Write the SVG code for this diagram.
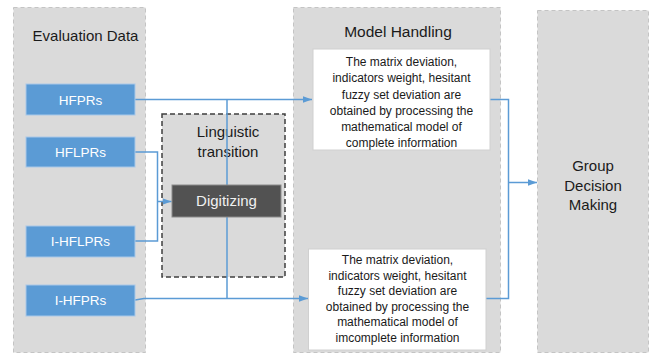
<svg xmlns="http://www.w3.org/2000/svg" width="653" height="353" viewBox="0 0 653 353">
<style>
.panel{fill:#dadada;stroke:#c4c4c4;stroke-width:1;stroke-dasharray:4 3}
.ling{fill:#dadada;stroke:#3f3f3f;stroke-width:1.5;stroke-dasharray:5 3}
.blue{fill:#5b9bd5;stroke:#a9c8e8;stroke-width:1}
.dig{fill:#525252;stroke:#8a8a8a;stroke-width:1}
.white{fill:#ffffff;stroke:#d0d0d0;stroke-width:1}
text{font-family:"Liberation Sans",Arial,sans-serif;text-anchor:middle}
.title{font-size:15px;fill:#1a1a1a}
.btn{font-size:13.5px;fill:#ffffff}
.small{font-size:12px;fill:#1a1a1a}
.conn{fill:none;stroke:#5b9bd5;stroke-width:1.5}
</style>
<defs>
<marker id="arr" viewBox="0 0 10 7" refX="10" refY="3.5" markerWidth="9" markerHeight="6.3" markerUnits="userSpaceOnUse" orient="auto">
<path d="M0,0 L10,3.5 L0,7 z" fill="#5b9bd5"/>
</marker>
</defs>
<g id="evaluation-data">
<rect class="panel" x="13.5" y="7.5" width="132" height="345"/>
<text class="title" x="85.5" y="41">Evaluation Data</text>
</g>
<g id="model-handling">
<rect class="panel" x="293.5" y="7.5" width="207" height="345"/>
<text class="title" x="398" y="37" style="font-size:15.5px">Model Handling</text>
</g>
<g id="group-decision-making">
<rect class="panel" x="537.5" y="10.5" width="111" height="342"/>
<text class="title" x="593" y="171">Group</text>
<text class="title" x="593" y="190.5">Decision</text>
<text class="title" x="593" y="210">Making</text>
</g>
<g id="linguistic-transition">
<rect class="ling" x="162" y="114" width="123" height="163"/>
<text class="title" x="228" y="137">Linguistic</text>
<text class="title" x="228" y="157">transition</text>
</g>
<g id="connectors">
<polyline class="conn" points="135,99.5 312,99.5" marker-end="url(#arr)"/>
<polyline class="conn" points="227,99.5 227,298.5"/>
<polyline class="conn" points="135,300 144,298.5 308,298.5" marker-end="url(#arr)"/>
<polyline class="conn" points="135,152 157.5,152 157.5,241 135,241"/>
<polyline class="conn" points="157.5,201.5 171.5,201.5" marker-end="url(#arr)"/>
<polyline class="conn" points="490,99.5 508.5,99.5 508.5,298.5 486,298.5"/>
<polyline class="conn" points="508.5,182.5 537,182.5" marker-end="url(#arr)"/>
</g>
<g id="hfprs">
<rect class="blue" x="26" y="84" width="109" height="31"/>
<text class="btn" x="80.5" y="104.5">HFPRs</text>
</g>
<g id="hflprs">
<rect class="blue" x="26" y="137" width="109" height="30"/>
<text class="btn" x="80.5" y="156.5">HFLPRs</text>
</g>
<g id="i-hflprs">
<rect class="blue" x="26" y="226" width="109" height="31"/>
<text class="btn" x="80.5" y="246">I-HFLPRs</text>
</g>
<g id="i-hfprs">
<rect class="blue" x="26" y="285" width="109" height="31"/>
<text class="btn" x="80.5" y="305">I-HFPRs</text>
</g>
<g id="digitizing">
<rect class="dig" x="172" y="185" width="109" height="32"/>
<text class="title" x="226.5" y="206" style="fill:#f0f0f0">Digitizing</text>
</g>
<g id="complete-model">
<rect class="white" x="313" y="49" width="177" height="101"/>
<text class="small" x="401.5" y="66">The matrix deviation,</text>
<text class="small" x="401.5" y="82.3">indicators weight, hesitant</text>
<text class="small" x="401.5" y="98.6">fuzzy set deviation are</text>
<text class="small" x="401.5" y="114.9">obtained by processing the</text>
<text class="small" x="401.5" y="131.2">mathematical model of</text>
<text class="small" x="401.5" y="147">complete information</text>
</g>
<g id="incomplete-model">
<rect class="white" x="308.5" y="249" width="177.5" height="101"/>
<text class="small" x="397.5" y="264">The matrix deviation,</text>
<text class="small" x="397.5" y="279.5">indicators weight, hesitant</text>
<text class="small" x="397.5" y="295">fuzzy set deviation are</text>
<text class="small" x="397.5" y="310.6">obtained by processing the</text>
<text class="small" x="397.5" y="326.2">mathematical model of</text>
<text class="small" x="397.5" y="341.8">imcomplete information</text>
</g>
</svg>
